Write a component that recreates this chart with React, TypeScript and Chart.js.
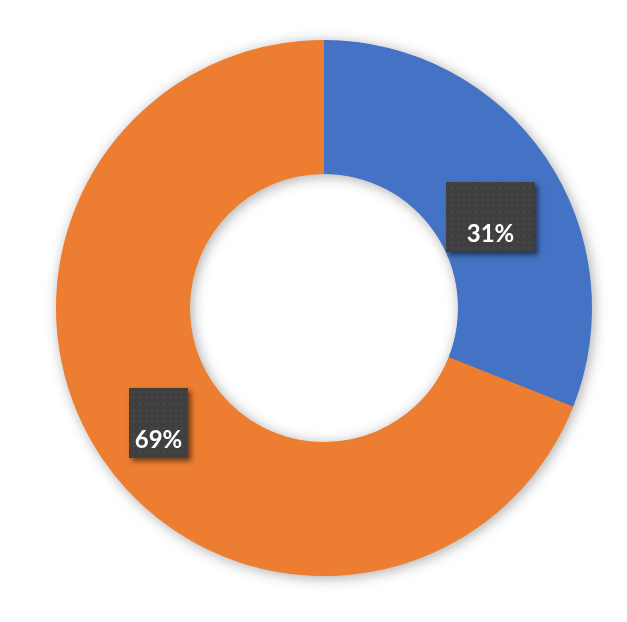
import React, { useEffect, useRef } from "react";
import { Chart, registerables } from "chart.js";

Chart.register(...registerables);

const categories = ["Series A", "Series B"];
const values = [31, 69];
const sliceColors = ["#4472C4", "#ED7D31"];
const labelTexts = ["31%", "69%"];

function makePattern(): CanvasPattern | string {
  const c = document.createElement("canvas");
  c.width = 6;
  c.height = 6;
  const g = c.getContext("2d");
  if (!g) return "#404040";
  g.fillStyle = "#3f3f3f";
  g.fillRect(0, 0, 6, 6);
  g.fillStyle = "#4a4a4a";
  g.fillRect(1, 1, 2, 2);
  const p = g.createPattern(c, "repeat");
  return p || "#404040";
}

const ringShadowPlugin = {
  id: "ringShadow",
  beforeDatasetsDraw(chart: any) {
    const meta = chart.getDatasetMeta(0);
    const arc = meta.data[0];
    if (!arc) return;
    const { x, y, outerRadius, innerRadius } = arc.getProps(["x", "y", "outerRadius", "innerRadius"], true);
    const ctx = chart.ctx;
    ctx.save();
    ctx.beginPath();
    ctx.arc(x, y, outerRadius - 0.5, 0, Math.PI * 2);
    ctx.moveTo(x + innerRadius + 0.5, y);
    ctx.arc(x, y, innerRadius + 0.5, 0, Math.PI * 2, true);
    ctx.closePath();
    ctx.shadowColor = "rgba(0,0,0,0.35)";
    ctx.shadowBlur = 14;
    ctx.shadowOffsetX = 2;
    ctx.shadowOffsetY = 2;
    ctx.fillStyle = "#ED7D31";
    ctx.fill("evenodd");
    ctx.restore();
  },
};

const boxLabelPlugin = {
  id: "boxLabels",
  afterDatasetsDraw(chart: any, _args: any, opts: any) {
    const meta = chart.getDatasetMeta(0);
    const ctx = chart.ctx;
    const pattern = makePattern();
    meta.data.forEach((arc: any, i: number) => {
      const pos = arc.tooltipPosition(true);
      const off = opts.offsets[i] || [0, 0];
      const size = opts.sizes[i] || [60, 70];
      const cx = pos.x + off[0];
      const cy = pos.y + off[1];
      const left = Math.round(cx - size[0] / 2);
      const top = Math.round(cy - size[1] / 2);
      ctx.save();
      ctx.shadowColor = "rgba(0,0,0,0.55)";
      ctx.shadowBlur = 5;
      ctx.shadowOffsetX = 3;
      ctx.shadowOffsetY = 3;
      ctx.fillStyle = "#404040";
      ctx.fillRect(left, top, size[0], size[1]);
      ctx.restore();
      ctx.save();
      ctx.fillStyle = pattern;
      ctx.fillRect(left, top, size[0], size[1]);
      ctx.font = "bold 24px Lato, 'Open Sans', sans-serif";
      ctx.fillStyle = "#ffffff";
      ctx.textAlign = "center";
      ctx.textBaseline = "alphabetic";
      ctx.fillText(labelTexts[i], left + size[0] / 2, top + size[1] - 10);
      ctx.restore();
    });
  },
};

export default function App() {
  const ref = useRef<HTMLCanvasElement>(null);
  useEffect(() => {
    if (!ref.current) return;
    const chart = new Chart(ref.current, {
      type: "doughnut",
      data: {
        labels: categories,
        datasets: [
          {
            data: values,
            backgroundColor: sliceColors,
            borderWidth: 0,
          },
        ],
      },
      options: {
        responsive: false,
        animation: false,
        cutout: "50%",
        layout: { padding: { left: 56, right: 35, top: 40, bottom: 46 } },
        plugins: {
          legend: { display: false },
          tooltip: { enabled: false },
          boxLabels: {
            offsets: [
              [0, 22],
              [1, 2],
            ],
            sizes: [
              [89, 70],
              [59, 70],
            ],
          },
        } as any,
      },
      plugins: [ringShadowPlugin, boxLabelPlugin],
    });
    return () => chart.destroy();
  }, []);
  return (
    <div style={{ position: "fixed", left: 0, top: 0, width: 627, height: 622, background: "#fff" }}>
      <canvas ref={ref} width={627} height={622} />
    </div>
  );
}
